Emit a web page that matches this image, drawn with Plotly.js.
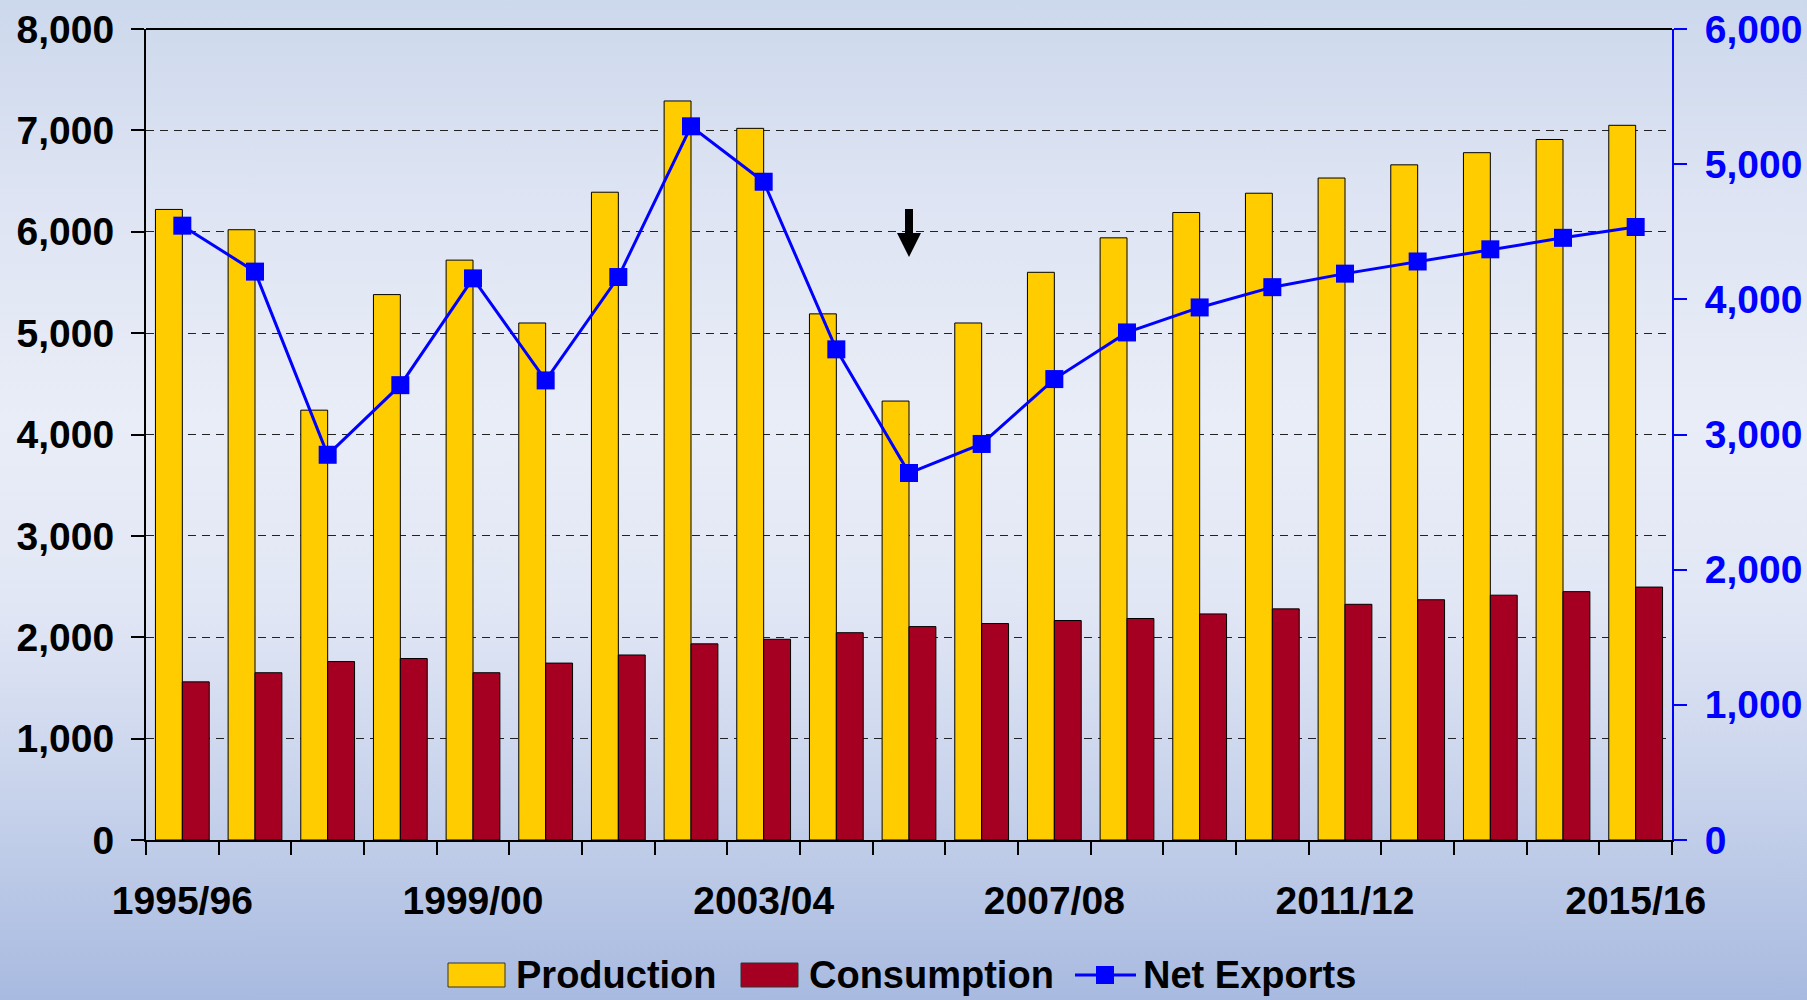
<!DOCTYPE html>
<html>
<head>
<meta charset="utf-8">
<script src="https://cdn.plot.ly/plotly-3.0.1.min.js"></script>
<style>
  html, body { margin: 0; padding: 0; }
  #chart {
    width: 1807px; height: 1000px;
    background: linear-gradient(to bottom, rgb(204,216,236) 0%, rgb(222,228,243) 20%, rgb(233,237,247) 42%, rgb(226,231,245) 60%, rgb(196,208,234) 82%, rgb(168,186,224) 100%);
  }
</style>
</head>
<body>
<div id="chart"></div>
<script>
// ---- Data (thousand tonnes) ----
const seasons = ["1995/96","1996/97","1997/98","1998/99","1999/00","2000/01","2001/02","2002/03","2003/04","2004/05","2005/06","2006/07","2007/08","2008/09","2009/10","2010/11","2011/12","2012/13","2013/14","2014/15","2015/16"];
const tickLabels = ["1995/96","","","","1999/00","","","","2003/04","","","","2007/08","","","","2011/12","","","","2015/16"];
const production = [6220,6020,4240,5380,5720,5100,6390,7290,7020,5190,4330,5100,5600,5940,6190,6380,6530,6660,6780,6910,7050];
const consumption = [1560,1650,1760,1790,1650,1745,1825,1935,1980,2045,2105,2135,2165,2185,2230,2280,2325,2370,2415,2450,2495];
const netExports = [4545,4205,2850,3365,4155,3400,4165,5280,4870,3630,2715,2930,3410,3755,3940,4090,4190,4280,4370,4455,4535];
const seriesNames = ["Production","Consumption","Net Exports"];
const arrowSeason = "2005/06";

// ---- Style ----
const FONT = "'Liberation Sans', Arial, sans-serif";
const YELLOW = "#FFCC00", RED = "#A50021", BLUE = "#0000FF";
const W = 1807, H = 1000;
const M = {l: 146, r: 135, t: 29, b: 160};
const PW = W - M.l - M.r, PH = H - M.t - M.b;
const px = x => (x - M.l) / PW;        // pixel -> paper x
const py = y => (H - M.b - y) / PH;    // pixel -> paper y

const traces = [
  {type: "bar", name: seriesNames[0], x: seasons, y: production,
   marker: {color: YELLOW, line: {color: "#000", width: 1}}, yaxis: "y", showlegend: false},
  {type: "bar", name: seriesNames[1], x: seasons, y: consumption,
   marker: {color: RED, line: {color: "#000", width: 1}}, yaxis: "y", showlegend: false},
  {type: "scatter", mode: "lines+markers", name: seriesNames[2], x: seasons, y: netExports, yaxis: "y2",
   line: {color: BLUE, width: 3}, marker: {symbol: "square", size: 18, color: BLUE}, showlegend: false}
];

const tickFont = {family: FONT, size: 39, color: "#000", weight: "bold"};

// arrow marker above the chosen season
const ai = seasons.indexOf(arrowSeason);
const cx = (ai + 0.5) / seasons.length;
const dx = v => v / PW;
const arrowPath = [
  [cx - dx(4), py(209)], [cx + dx(4), py(209)], [cx + dx(4), py(233)], [cx + dx(12), py(233)],
  [cx, py(257)], [cx - dx(12), py(233)], [cx - dx(4), py(233)]
].map((p, i) => (i ? "L" : "M") + p[0] + "," + p[1]).join(" ") + " Z";

// custom legend
const legY = 975;
const shapes = [
  {type: "line", xref: "paper", yref: "paper", x0: 0, x1: 1, y0: 1, y1: 1, line: {color: "#000", width: 2}},
  {type: "path", xref: "paper", yref: "paper", path: arrowPath, fillcolor: "#000", line: {width: 0}},
  {type: "rect", xref: "paper", yref: "paper", x0: px(448), x1: px(505), y0: py(legY - 12), y1: py(legY + 12),
   fillcolor: YELLOW, line: {color: "#333", width: 1}},
  {type: "rect", xref: "paper", yref: "paper", x0: px(741), x1: px(798), y0: py(legY - 12), y1: py(legY + 12),
   fillcolor: RED, line: {color: "#333", width: 1}},
  {type: "line", xref: "paper", yref: "paper", x0: px(1075), x1: px(1136), y0: py(legY), y1: py(legY),
   line: {color: BLUE, width: 3}},
  {type: "rect", xref: "paper", yref: "paper", x0: px(1096), x1: px(1114), y0: py(legY - 9), y1: py(legY + 9),
   fillcolor: BLUE, line: {width: 0}}
];
const legFont = {family: FONT, size: 38, color: "#000", weight: "bold"};
const annotations = [
  {xref: "paper", yref: "paper", x: px(515), y: py(legY), xanchor: "left", yanchor: "middle", text: seriesNames[0], showarrow: false, font: legFont, borderpad: 0},
  {xref: "paper", yref: "paper", x: px(808), y: py(legY), xanchor: "left", yanchor: "middle", text: seriesNames[1], showarrow: false, font: legFont, borderpad: 0},
  {xref: "paper", yref: "paper", x: px(1142), y: py(legY), xanchor: "left", yanchor: "middle", text: seriesNames[2], showarrow: false, font: legFont, borderpad: 0}
];

const layout = {
  width: W, height: H,
  margin: M,
  paper_bgcolor: "rgba(0,0,0,0)",
  plot_bgcolor: "rgba(0,0,0,0)",
  barmode: "group", bargap: 0.26, bargroupgap: 0,
  showlegend: false,
  font: {family: FONT},
  xaxis: {
    type: "category", categoryorder: "array", categoryarray: seasons,
    range: [-0.5, seasons.length - 0.5], autorange: false,
    tickmode: "array", tickvals: seasons, ticktext: tickLabels,
    tickson: "boundaries", ticks: "outside", ticklen: 13, tickwidth: 2, tickcolor: "#000",
    showline: true, linecolor: "#000", linewidth: 2, showgrid: false,
    tickfont: tickFont, tickangle: 0, ticklabelstandoff: 25
  },
  yaxis: {
    range: [0, 8000], dtick: 1000, tickformat: ",d",
    showline: true, linecolor: "#000", linewidth: 2,
    ticks: "outside", ticklen: 13, tickwidth: 2, tickcolor: "#000",
    showgrid: true, gridcolor: "#222", gridwidth: 1, griddash: "8px,6px",
    zeroline: false, tickfont: tickFont, ticklabelstandoff: 9
  },
  yaxis2: {
    overlaying: "y", side: "right", anchor: "x",
    range: [0, 6000], dtick: 1000, tickformat: ",d",
    showline: true, linecolor: BLUE, linewidth: 2,
    ticks: "outside", ticklen: 13, tickwidth: 2, tickcolor: BLUE,
    showgrid: false, zeroline: false,
    tickfont: Object.assign({}, tickFont, {color: BLUE}), ticklabelstandoff: 10
  },
  yaxis3: {
    overlaying: "y", side: "right", anchor: "x",
    range: [0, 6000], dtick: 1000,
    ticks: "inside", ticklen: 13, tickwidth: 2, tickcolor: BLUE,
    showticklabels: false, showline: false, showgrid: false, zeroline: false
  },
  shapes: shapes,
  annotations: annotations
};

Plotly.newPlot("chart", traces, layout, {displayModeBar: false, staticPlot: true});
</script>
</body>
</html>
